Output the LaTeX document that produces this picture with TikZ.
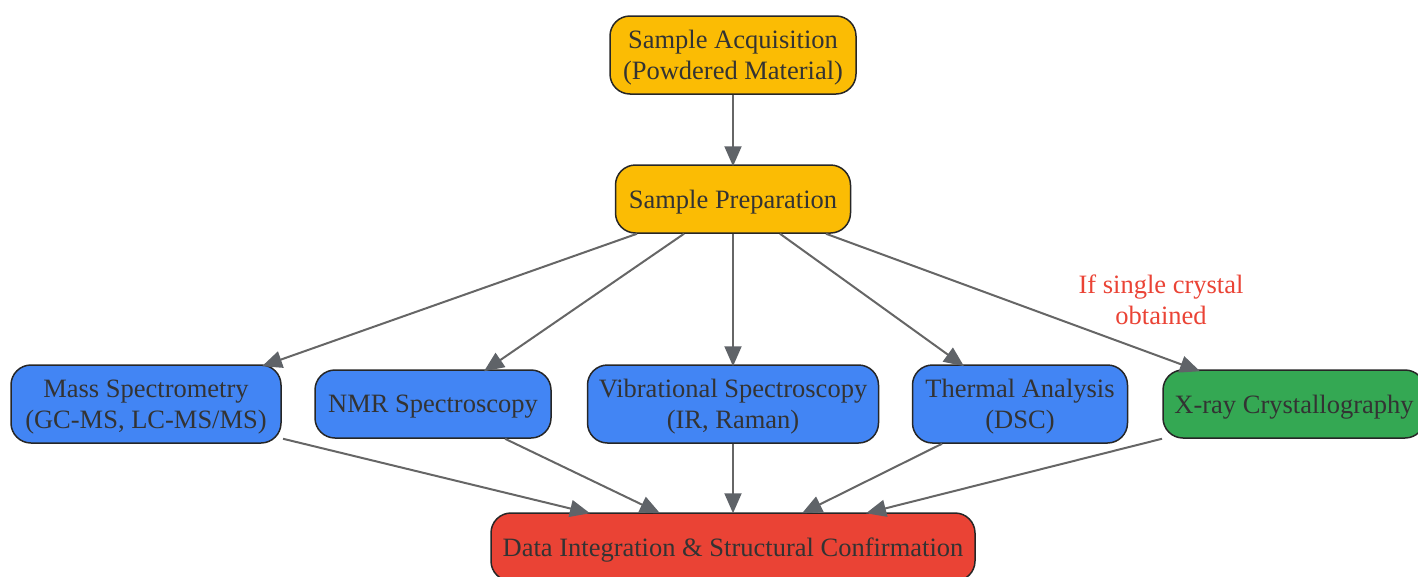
\documentclass[tikz,border=0pt]{standalone}
\usepackage{fontspec}
\setmainfont{Liberation Serif}
\usetikzlibrary{arrows.meta}
\definecolor{cyellow}{HTML}{FBBC04}
\definecolor{cblue}{HTML}{4285F4}
\definecolor{cgreen}{HTML}{34A853}
\definecolor{cred}{HTML}{EA4335}
\definecolor{ctext}{HTML}{333333}
\definecolor{cedge}{HTML}{666666}
\definecolor{ctip}{HTML}{5F6368}
\begin{document}
\begin{tikzpicture}[x=1pt,y=-1pt,
  box/.style={draw=black!85, line width=1.5pt, rounded corners=20pt, align=center,
    text=ctext, font=\fontsize{26.5}{31}\selectfont, inner sep=0pt, anchor=center, text depth=-2pt},
  conn/.style={draw=cedge, line width=2pt, -{Triangle[length=20pt,width=17pt,color=ctip]}},
  ]
\useasboundingbox (0,0) rectangle (1418,576);
\node[box, fill=cyellow, minimum width=246pt, minimum height=78pt] (acq) at (733,55) {Sample Acquisition\\(Powdered Material)};
\node[box, fill=cyellow, minimum width=235pt, minimum height=68pt] (prep) at (733,199) {Sample Preparation};
\node[box, fill=cblue, minimum width=270pt, minimum height=78pt] (mass) at (146,404) {Mass Spectrometry\\(GC-MS, LC-MS/MS)};
\node[box, fill=cblue, minimum width=236pt, minimum height=68pt] (nmr) at (433,404) {NMR Spectroscopy};
\node[box, fill=cblue, minimum width=291pt, minimum height=78pt] (vib) at (733,404) {Vibrational Spectroscopy\\(IR, Raman)};
\node[box, fill=cblue, minimum width=215pt, minimum height=78pt] (therm) at (1020,404) {Thermal Analysis\\(DSC)};
\node[box, fill=cgreen, minimum width=262pt, minimum height=68pt] (xray) at (1294,404) {X-ray Crystallography};
\node[box, fill=cred, minimum width=484pt, minimum height=68pt] (data) at (733,547) {Data Integration \& Structural Confirmation};
\node[text=cred, align=center, font=\fontsize{26.5}{31}\selectfont, inner sep=0pt] (lbl) at (1161,300) {If single crystal\\obtained};

\draw[conn] (acq.south) -- ([yshift=-2]prep.north);
\draw[conn] ([xshift=-96]prep.south) -- ([xshift=116,yshift=-2]mass.north);
\draw[conn] ([xshift=-49]prep.south) -- ([xshift=51,yshift=-2]nmr.north);
\draw[conn] (prep.south) -- ([yshift=-2]vib.north);
\draw[conn] ([xshift=47]prep.south) -- ([xshift=-56,yshift=-2]therm.north);
\draw[conn] ([xshift=93]prep.south) -- ([xshift=-94,yshift=-2]xray.north);

\draw[conn] ([xshift=137,yshift=5]mass.south) -- ([xshift=-143,yshift=-1]data.north);
\draw[conn] ([xshift=72]nmr.south) -- ([xshift=-73,yshift=-1]data.north);
\draw[conn] (vib.south) -- ([yshift=-1]data.north);
\draw[conn] ([xshift=-78]therm.south) -- ([xshift=69,yshift=-1]data.north);
\draw[conn] ([xshift=-132]xray.south) -- ([xshift=133,yshift=-1]data.north);
\end{tikzpicture}
\end{document}
